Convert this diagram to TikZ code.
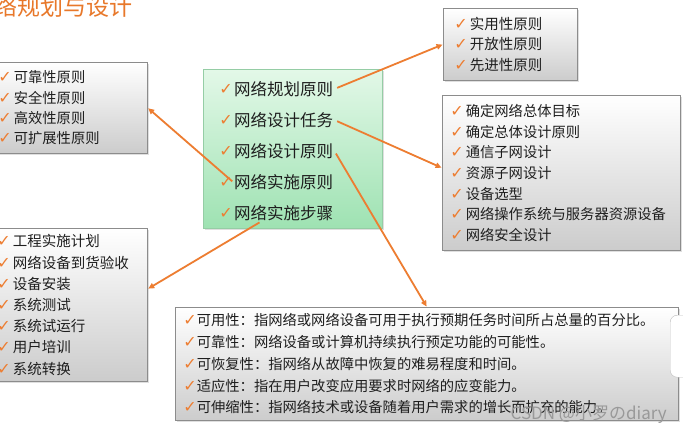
\documentclass[tikz,border=0pt]{standalone}
\usepackage{fontspec}
\setmainfont{Noto Sans CJK SC}
\newfontfamily\ckfont{DejaVu Sans}
\usetikzlibrary{arrows.meta, positioning, calc, shadows}
\definecolor{netOrange}{HTML}{ED7D31}
\definecolor{netTitle}{HTML}{E8782A}
\definecolor{netInk}{HTML}{1E1E1E}
\definecolor{netEdge}{HTML}{8C8C8C}
\definecolor{netGreenTop}{HTML}{E3F8E8}
\definecolor{netGreenBot}{HTML}{9EE2B2}
\definecolor{netGreenEdge}{HTML}{95CDA5}
\newcommand{\ck}[1][2pt]{{\color{netOrange}\ckfont\fontsize{16}{12}\selectfont ✓}\hspace{#1}}

\begin{document}
\begin{tikzpicture}[
  x=1pt, y=-1pt,
  font=\fontsize{14.5}{20.5}\selectfont,
  >={Triangle[length=6pt, width=5.5pt]},
  lst/.style={draw=netEdge, line width=0.8pt, top color=white, bottom color=black!20,
              drop shadow={opacity=0.25, shadow xshift=1.5pt, shadow yshift=-1.5pt},
              anchor=north west, align=left, text=netInk, inner ysep=0pt},
  hub/.style={draw=netGreenEdge, line width=0.8pt, top color=netGreenTop,
              bottom color=netGreenBot, anchor=north west,
              drop shadow={opacity=0.25, shadow xshift=1.5pt, shadow yshift=-1.5pt}},
  ckmk/.style={text=netOrange, font=\ckfont\fontsize{16}{12}\selectfont, inner sep=0pt},
  item/.style={anchor=west, inner sep=1pt, text=netInk,
               font=\fontsize{16.5}{20}\selectfont,
               label distance=4pt, label={[ckmk]left:✓}},
  flow/.style={->, draw=netOrange, line width=1.8pt, shorten >=0.5pt, shorten <=3pt},
]
\path[use as bounding box, fill=white] (0,0) rectangle (683,434);

% ======================= title ==========================================
\node[anchor=base west, inner sep=0pt, text=netTitle,
      font=\fontsize{23}{23}\selectfont] (title) at (-6,15) {络规划与设计};

% ======================= centre =========================================
\node[hub, minimum width=179, minimum height=159] (core) at (203,69) {};
\foreach \i/\y/\t in {1/89/网络规划原则, 2/120/网络设计任务, 3/151/网络设计原则,
                      4/182/网络实施原则, 5/213/网络实施步骤} {
  \node[item] (c\i) at (233,\y) {\t};
}

% ======================= lists ==========================================
\node[lst, text width=143pt, inner xsep=6pt, minimum height=91,
      font=\fontsize{14.3}{20.3}\selectfont] (rules) at (-8,62)
  {\ck 可靠性原则\\\ck 安全性原则\\\ck 高效性原则\\\ck 可扩展性原则};

\node[lst, text width=112pt, inner xsep=11pt, minimum height=72] (aims) at (443,8)
  {\ck 实用性原则\\\ck 开放性原则\\\ck 先进性原则};

\node[lst, text width=222pt, inner xsep=8pt, minimum height=155,
      font=\fontsize{14.3}{20.7}\selectfont] (tasks) at (442,95)
  {\ck 确定网络总体目标\\\ck 确定总体设计原则\\\ck 通信子网设计\\\ck 资源子网设计\\
   \ck 设备选型\\\ck 网络操作系统与服务器资源设备\\\ck 网络安全设计};

\node[lst, text width=145pt, inner xsep=5pt, minimum height=153,
      font=\fontsize{14.5}{21.2}\selectfont] (steps) at (-8,228)
  {\ck 工程实施计划\\\ck 网络设备到货验收\\\ck 设备安装\\\ck 系统测试\\
   \ck 系统试运行\\\ck 用户培训\\\ck 系统转换};

\node[lst, text width=487pt, inner xsep=8pt, minimum height=113,
      font=\fontsize{14.3}{21.7}\selectfont] (defs) at (175,307)
  {\ck[0pt]可用性：指网络或网络设备可用于执行预期任务时间所占总量的百分比。\\
   \ck[0pt]可靠性：网络设备或计算机持续执行预定功能的可能性。\\
   \ck[0pt]可恢复性：指网络从故障中恢复的难易程度和时间。\\
   \ck[0pt]适应性：指在用户改变应用要求时网络的应变能力。\\
   \ck[0pt]可伸缩性：指网络技术或设备随着用户需求的增长而扩充的能力。};

% the cut-off panel at the right edge, and the watermark
\node[draw=black!25, fill=white, rounded corners=7pt, minimum width=30, minimum height=62,
      anchor=north west] (panel) at (670,315) {};
\node[text=black!40, font=\fontsize{17}{17}\selectfont, anchor=east, inner sep=0pt]
  (wm) at (667,414) {CSDN @小罗のdiary};

% ======================= connectors =====================================
\draw[flow] (c1.east) -- (aims.west);
\draw[flow] (c2.east) -- ([yshift=5pt]tasks.west);
\draw[flow] (c3.east) -- (defs.north);
\draw[flow, shorten <=1pt] (c4.west) -- (rules.east);
\draw[flow, shorten <=1pt] ($(c5.south west)!0.27!(c5.south east)$) -- ([yshift=16pt]steps.east);
\end{tikzpicture}
\end{document}
